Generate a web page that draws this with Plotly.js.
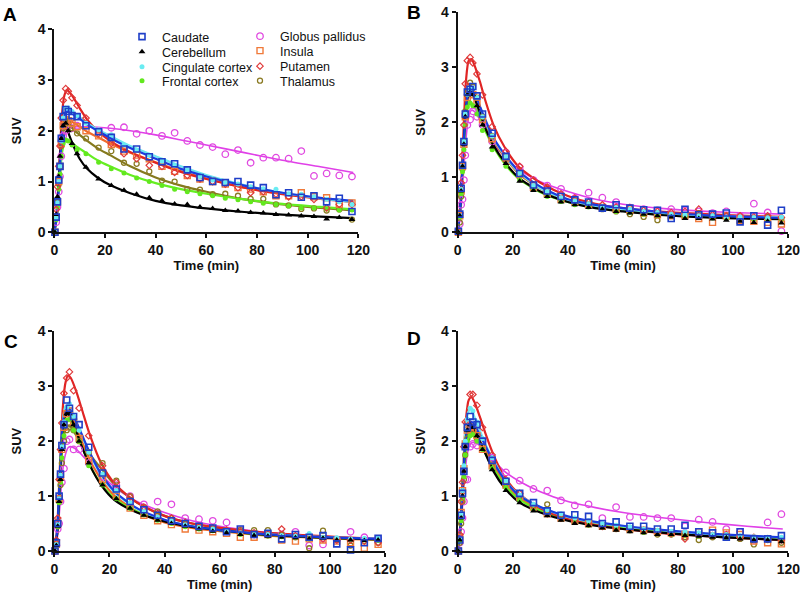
<!DOCTYPE html>
<html>
<head>
<meta charset="utf-8">
<script src="https://cdn.plot.ly/plotly-3.0.1.min.js"></script>
<style>html,body{margin:0;padding:0;background:#fff;}#chart{width:800px;height:594px;}</style>
</head>
<body>
<div id="chart"></div>
<script>
// Frame mid-times (min) for measured points
const T = [0.25, 0.75, 1.25, 1.75, 2.25, 2.75, 3.5, 4.5, 5.5, 7, 9, 12.5, 17.5, 22.5, 27.5, 32.5, 37.5, 42.5, 47.5, 52.5, 57.5, 62.5, 67.5, 72.5, 77.5, 82.5, 87.5, 92.5, 97.5, 102.5, 107.5, 112.5, 117.5];
// Times at which the fitted curves were read
const FIT_T = [0, 1, 2, 3, 4, 5, 6, 8, 10, 13, 17, 22, 30, 40, 50, 60, 75, 90, 105, 118];

const regions = ["Caudate", "Cerebellum", "Cingulate cortex", "Frontal cortex", "Globus pallidus", "Insula", "Putamen", "Thalamus"];
const panelLabels = ["A", "B", "C", "D"];

// ---------- Panel A : measured SUV ----------
const A_caudate = [0, 0.3, 0.6, 1.03, 1.3, 1.85, 2.28, 2.42, 2.38, 2.3, 2.28, 2.1, 1.98, 1.87, 1.64, 1.64, 1.49, 1.39, 1.35, 1.23, 1.08, 1.0, 0.98, 1.0, 0.93, 0.88, 0.74, 0.78, 0.69, 0.72, 0.6, 0.67, 0.41];
const A_cerebellum = [0, 0.35, 0.7, 1.1, 1.5, 1.85, 2.1, 2.15, 2.0, 1.75, 1.55, 1.28, 1.05, 0.92, 0.83, 0.75, 0.68, 0.62, 0.56, 0.55, 0.5, 0.47, 0.43, 0.42, 0.39, 0.38, 0.35, 0.34, 0.32, 0.31, 0.26, 0.29, 0.25];
const A_cingulate = [0, 0.28, 0.58, 1.0, 1.3, 1.8, 2.25, 2.45, 2.45, 2.38, 2.3, 2.15, 2.02, 1.92, 1.72, 1.62, 1.52, 1.4, 1.32, 1.22, 1.1, 1.03, 0.98, 0.95, 0.9, 0.86, 0.85, 0.76, 0.75, 0.7, 0.65, 0.6, 0.55];
const A_frontal = [0, 0.25, 0.5, 0.85, 1.15, 1.5, 1.75, 1.82, 1.8, 1.72, 1.62, 1.55, 1.38, 1.25, 1.17, 1.07, 1.0, 0.92, 0.85, 0.8, 0.76, 0.72, 0.67, 0.64, 0.6, 0.57, 0.55, 0.52, 0.48, 0.48, 0.46, 0.44, 0.44];
const A_globus = [0, 0.2, 0.5, 0.8, 1.1, 1.5, 1.9, 2.0, 2.1, 2.05, 2.1, 2.1, 2.0, 2.06, 2.07, 1.94, 2.0, 1.9, 1.96, 1.8, 1.72, 1.68, 1.54, 1.62, 1.37, 1.47, 1.47, 1.45, 1.6, 1.11, 1.16, 1.12, 1.1];
const A_insula = [0, 0.3, 0.6, 1.0, 1.3, 1.75, 2.1, 2.22, 2.2, 2.15, 2.08, 2.0, 1.9, 1.73, 1.6, 1.52, 1.45, 1.3, 1.2, 1.12, 1.05, 1.0, 0.95, 0.88, 0.85, 0.8, 0.72, 0.72, 0.78, 0.7, 0.68, 0.55, 0.58];
const A_putamen = [0, 0.45, 0.9, 1.3, 1.7, 2.25, 2.6, 2.83, 2.78, 2.65, 2.5, 2.25, 1.95, 1.75, 1.55, 1.45, 1.32, 1.3, 1.18, 1.12, 1.05, 1.0, 0.95, 0.88, 0.78, 0.8, 0.75, 0.7, 0.7, 0.65, 0.48, 0.55, 0.55];
const A_thalamus = [0, 0.3, 0.6, 0.95, 1.3, 1.7, 2.05, 2.2, 2.15, 2.05, 1.95, 1.85, 1.67, 1.6, 1.37, 1.35, 1.2, 1.02, 1.0, 0.85, 0.84, 0.75, 0.76, 0.72, 0.66, 0.66, 0.55, 0.53, 0.46, 0.47, 0.43, 0.45, 0.25];
// Panel A : fitted curves
const A_caudate_fit = [0, 0.35, 1.1, 1.95, 2.3, 2.38, 2.37, 2.3, 2.24, 2.12, 2.0, 1.86, 1.66, 1.45, 1.25, 1.1, 0.92, 0.78, 0.68, 0.62];
const A_cerebellum_fit = [0, 0.4, 1.25, 2.0, 2.15, 2.05, 1.9, 1.65, 1.45, 1.25, 1.08, 0.93, 0.77, 0.62, 0.53, 0.47, 0.4, 0.35, 0.31, 0.28];
const A_cingulate_fit = [0, 0.33, 1.05, 1.9, 2.3, 2.42, 2.4, 2.34, 2.27, 2.15, 2.03, 1.9, 1.7, 1.5, 1.3, 1.13, 0.93, 0.78, 0.67, 0.6];
const A_frontal_fit = [0, 0.3, 0.95, 1.55, 1.78, 1.82, 1.8, 1.72, 1.65, 1.55, 1.42, 1.3, 1.13, 0.97, 0.85, 0.76, 0.65, 0.56, 0.5, 0.45];
const A_globus_fit = [0, 0.25, 0.85, 1.55, 1.9, 2.02, 2.07, 2.08, 2.08, 2.08, 2.07, 2.05, 2.0, 1.92, 1.82, 1.72, 1.57, 1.42, 1.29, 1.18];
const A_insula_fit = [0, 0.3, 1.0, 1.8, 2.15, 2.22, 2.2, 2.15, 2.08, 1.98, 1.88, 1.75, 1.57, 1.38, 1.2, 1.06, 0.88, 0.76, 0.67, 0.6];
const A_putamen_fit = [0, 0.4, 1.3, 2.3, 2.7, 2.8, 2.76, 2.62, 2.45, 2.22, 2.0, 1.8, 1.58, 1.37, 1.19, 1.05, 0.88, 0.75, 0.66, 0.6];
const A_thalamus_fit = [0, 0.3, 1.0, 1.75, 2.1, 2.18, 2.12, 2.0, 1.92, 1.8, 1.66, 1.52, 1.3, 1.08, 0.92, 0.8, 0.65, 0.55, 0.48, 0.43];

// ---------- Panel B ----------
const B_caudate = [0.02, 0.33, 0.8, 1.22, 1.65, 2.15, 2.55, 2.6, 2.65, 2.48, 2.15, 1.8, 1.38, 1.07, 0.86, 0.75, 0.65, 0.59, 0.55, 0.44, 0.5, 0.44, 0.41, 0.4, 0.25, 0.42, 0.32, 0.33, 0.35, 0.19, 0.3, 0.13, 0.4];
const B_cerebellum = [0, 0.3, 0.75, 1.2, 1.6, 2.1, 2.5, 2.55, 2.5, 2.3, 1.95, 1.55, 1.25, 0.93, 0.76, 0.65, 0.55, 0.5, 0.45, 0.42, 0.38, 0.35, 0.33, 0.3, 0.28, 0.25, 0.25, 0.24, 0.22, 0.2, 0.18, 0.2, 0.17];
const B_cingulate = [0, 0.3, 0.78, 1.2, 1.65, 2.15, 2.5, 2.6, 2.62, 2.45, 2.1, 1.75, 1.38, 1.08, 0.85, 0.74, 0.63, 0.57, 0.52, 0.47, 0.45, 0.42, 0.38, 0.36, 0.33, 0.32, 0.3, 0.3, 0.28, 0.28, 0.27, 0.26, 0.28];
const B_frontal = [0, 0.28, 0.7, 1.1, 1.5, 1.95, 2.28, 2.35, 2.3, 2.15, 1.85, 1.5, 1.2, 0.95, 0.78, 0.65, 0.56, 0.5, 0.46, 0.42, 0.38, 0.36, 0.33, 0.31, 0.3, 0.29, 0.27, 0.26, 0.25, 0.26, 0.24, 0.23, 0.24];
const B_globus = [0, 0.15, 0.5, 0.6, 0.95, 1.4, 1.95, 2.05, 2.2, 2.1, 1.95, 1.65, 1.45, 1.18, 0.95, 0.85, 0.79, 0.62, 0.72, 0.63, 0.55, 0.45, 0.42, 0.4, 0.42, 0.4, 0.38, 0.35, 0.38, 0.3, 0.52, 0.36, 0.02];
const B_insula = [0, 0.3, 0.75, 1.2, 1.6, 2.1, 2.45, 2.55, 2.5, 2.35, 2.05, 1.7, 1.35, 1.05, 0.82, 0.7, 0.6, 0.55, 0.5, 0.45, 0.42, 0.4, 0.35, 0.32, 0.3, 0.3, 0.25, 0.18, 0.3, 0.22, 0.2, 0.18, 0.15];
const B_putamen = [0, 0.35, 0.9, 1.4, 1.95, 2.7, 3.12, 3.18, 3.08, 2.88, 2.5, 1.92, 1.47, 1.2, 0.95, 0.82, 0.7, 0.62, 0.55, 0.5, 0.46, 0.45, 0.4, 0.38, 0.36, 0.38, 0.42, 0.32, 0.3, 0.3, 0.28, 0.3, 0.27];
const B_thalamus = [0, 0.18, 0.65, 1.15, 1.65, 2.2, 2.55, 2.72, 2.65, 2.45, 2.1, 1.75, 1.35, 1.05, 0.8, 0.72, 0.6, 0.55, 0.48, 0.42, 0.38, 0.33, 0.28, 0.22, 0.3, 0.3, 0.35, 0.28, 0.3, 0.25, 0.25, 0.28, 0.25];
const B_caudate_fit = [0, 0.5, 1.45, 2.25, 2.58, 2.62, 2.55, 2.3, 2.05, 1.72, 1.42, 1.12, 0.83, 0.6, 0.5, 0.44, 0.36, 0.31, 0.28, 0.26];
const B_cerebellum_fit = [0, 0.5, 1.45, 2.25, 2.52, 2.55, 2.45, 2.18, 1.9, 1.58, 1.28, 1.0, 0.74, 0.55, 0.44, 0.38, 0.31, 0.27, 0.25, 0.24];
const B_cingulate_fit = [0, 0.5, 1.45, 2.25, 2.55, 2.6, 2.52, 2.28, 2.02, 1.7, 1.4, 1.1, 0.8, 0.58, 0.47, 0.41, 0.34, 0.3, 0.28, 0.27];
const B_frontal_fit = [0, 0.45, 1.35, 2.1, 2.32, 2.35, 2.3, 2.1, 1.85, 1.55, 1.25, 0.98, 0.73, 0.55, 0.45, 0.39, 0.32, 0.28, 0.26, 0.25];
const B_globus_fit = [0, 0.3, 1.0, 1.7, 2.1, 2.22, 2.2, 2.05, 1.85, 1.6, 1.38, 1.15, 0.92, 0.74, 0.6, 0.51, 0.43, 0.38, 0.35, 0.33];
const B_insula_fit = [0, 0.5, 1.4, 2.2, 2.5, 2.55, 2.48, 2.25, 2.0, 1.68, 1.38, 1.08, 0.8, 0.59, 0.48, 0.41, 0.34, 0.3, 0.27, 0.25];
const B_putamen_fit = [0, 0.55, 1.7, 2.75, 3.12, 3.15, 3.05, 2.75, 2.4, 1.95, 1.55, 1.2, 0.9, 0.66, 0.52, 0.44, 0.37, 0.33, 0.3, 0.28];
const B_thalamus_fit = [0, 0.5, 1.45, 2.3, 2.6, 2.65, 2.55, 2.28, 2.0, 1.68, 1.38, 1.08, 0.8, 0.58, 0.47, 0.4, 0.33, 0.29, 0.27, 0.26];

// ---------- Panel C ----------
const C_caudate = [0, 0.15, 0.5, 1.0, 1.4, 1.92, 2.3, 2.75, 2.6, 2.45, 2.3, 1.89, 1.42, 1.13, 0.9, 0.75, 0.65, 0.55, 0.5, 0.45, 0.42, 0.35, 0.4, 0.3, 0.32, 0.22, 0.3, 0.25, 0.28, 0.13, 0.02, 0.15, 0.23];
const C_cerebellum = [0, 0.1, 0.45, 0.9, 1.3, 1.85, 2.3, 2.5, 2.5, 2.3, 2.0, 1.6, 1.2, 0.95, 0.78, 0.65, 0.56, 0.5, 0.45, 0.4, 0.36, 0.33, 0.3, 0.28, 0.27, 0.25, 0.24, 0.22, 0.23, 0.2, 0.2, 0.19, 0.2];
const C_cingulate = [0, 0.12, 0.48, 0.95, 1.38, 1.9, 2.35, 2.62, 2.68, 2.45, 2.2, 1.8, 1.4, 1.1, 0.88, 0.72, 0.62, 0.55, 0.48, 0.43, 0.4, 0.36, 0.33, 0.3, 0.3, 0.28, 0.27, 0.32, 0.25, 0.24, 0.22, 0.23, 0.24];
const C_frontal = [0, 0.1, 0.45, 0.88, 1.25, 1.7, 2.1, 2.38, 2.4, 2.2, 2.0, 1.55, 1.2, 0.95, 0.78, 0.66, 0.56, 0.5, 0.44, 0.4, 0.37, 0.34, 0.3, 0.28, 0.27, 0.26, 0.25, 0.22, 0.24, 0.22, 0.2, 0.2, 0.19];
const C_globus = [0, 0.1, 0.4, 0.5, 0.9, 1.25, 1.5, 2.0, 2.03, 1.85, 1.85, 1.6, 1.35, 1.2, 1.0, 0.85, 0.9, 0.85, 0.6, 0.58, 0.55, 0.52, 0.38, 0.3, 0.3, 0.3, 0.35, 0.1, 0.12, 0.2, 0.35, 0.25, 0.22];
const C_insula = [0, 0.12, 0.5, 0.95, 1.35, 1.85, 2.25, 2.5, 2.55, 2.35, 2.05, 1.65, 1.3, 1.0, 0.78, 0.65, 0.55, 0.48, 0.4, 0.38, 0.35, 0.32, 0.25, 0.25, 0.3, 0.2, 0.18, 0.22, 0.2, 0.18, 0.15, 0.05, 0.12];
const C_putamen = [0, 0.2, 0.6, 1.3, 1.85, 2.33, 2.87, 3.15, 3.26, 2.92, 2.6, 2.1, 1.55, 1.25, 0.98, 0.8, 0.68, 0.6, 0.52, 0.45, 0.42, 0.38, 0.35, 0.33, 0.3, 0.4, 0.28, 0.25, 0.22, 0.2, 0.2, 0.18, 0.15];
const C_thalamus = [0, 0.12, 0.45, 0.9, 1.2, 1.6, 2.0, 2.2, 2.25, 2.2, 2.0, 1.8, 1.6, 1.28, 1.0, 0.8, 0.72, 0.6, 0.5, 0.42, 0.4, 0.35, 0.38, 0.38, 0.38, 0.3, 0.25, 0.05, 0.37, 0.2, 0.1, 0.18, 0.15];
const C_caudate_fit = [0, 0.35, 1.35, 2.3, 2.55, 2.6, 2.55, 2.35, 2.12, 1.78, 1.4, 1.08, 0.78, 0.57, 0.45, 0.38, 0.31, 0.27, 0.24, 0.22];
const C_cerebellum_fit = [0, 0.3, 1.25, 2.2, 2.45, 2.5, 2.42, 2.18, 1.9, 1.55, 1.2, 0.92, 0.7, 0.54, 0.44, 0.38, 0.3, 0.26, 0.23, 0.21];
const C_cingulate_fit = [0, 0.35, 1.35, 2.35, 2.62, 2.65, 2.58, 2.35, 2.1, 1.75, 1.38, 1.06, 0.77, 0.56, 0.45, 0.38, 0.31, 0.27, 0.24, 0.22];
const C_frontal_fit = [0, 0.3, 1.2, 2.1, 2.35, 2.4, 2.35, 2.15, 1.9, 1.55, 1.22, 0.95, 0.72, 0.55, 0.45, 0.38, 0.3, 0.26, 0.23, 0.21];
const C_globus_fit = [0, 0.2, 0.8, 1.45, 1.75, 1.88, 1.9, 1.85, 1.75, 1.58, 1.38, 1.16, 0.9, 0.7, 0.55, 0.45, 0.35, 0.29, 0.25, 0.23];
const C_insula_fit = [0, 0.32, 1.3, 2.25, 2.5, 2.55, 2.48, 2.25, 2.0, 1.65, 1.3, 1.0, 0.72, 0.52, 0.42, 0.36, 0.29, 0.25, 0.22, 0.2];
const C_putamen_fit = [0, 0.4, 1.5, 2.55, 3.05, 3.2, 3.15, 2.9, 2.58, 2.1, 1.6, 1.22, 0.88, 0.64, 0.5, 0.42, 0.34, 0.29, 0.25, 0.22];
const C_thalamus_fit = [0, 0.3, 1.15, 1.95, 2.2, 2.28, 2.25, 2.1, 1.95, 1.75, 1.5, 1.2, 0.88, 0.64, 0.5, 0.42, 0.33, 0.28, 0.24, 0.21];

// ---------- Panel D ----------
const D_caudate = [0, 0.2, 0.65, 1.05, 1.45, 1.9, 2.25, 2.45, 2.35, 2.3, 2.0, 1.65, 1.27, 1.05, 0.88, 0.73, 0.65, 0.66, 0.63, 0.5, 0.53, 0.45, 0.45, 0.4, 0.4, 0.47, 0.35, 0.33, 0.25, 0.35, 0.22, 0.22, 0.28];
const D_cerebellum = [0, 0.2, 0.6, 1.0, 1.45, 1.9, 2.2, 2.3, 2.25, 2.1, 1.85, 1.48, 1.1, 0.88, 0.73, 0.64, 0.56, 0.5, 0.46, 0.42, 0.38, 0.35, 0.33, 0.3, 0.3, 0.28, 0.27, 0.25, 0.24, 0.22, 0.2, 0.2, 0.17];
const D_cingulate = [0, 0.22, 0.68, 1.1, 1.55, 2.0, 2.4, 2.6, 2.55, 2.35, 2.05, 1.7, 1.28, 1.02, 0.85, 0.75, 0.68, 0.6, 0.55, 0.5, 0.47, 0.44, 0.4, 0.38, 0.36, 0.35, 0.33, 0.3, 0.3, 0.28, 0.26, 0.25, 0.25];
const D_frontal = [0, 0.18, 0.55, 0.95, 1.35, 1.75, 2.0, 2.1, 2.12, 2.0, 1.85, 1.5, 1.15, 0.92, 0.76, 0.66, 0.58, 0.52, 0.47, 0.43, 0.4, 0.37, 0.34, 0.32, 0.3, 0.28, 0.27, 0.26, 0.25, 0.24, 0.22, 0.21, 0.2];
const D_globus = [0, 0.15, 0.35, 0.6, 0.9, 1.3, 1.3, 1.9, 1.95, 1.92, 2.0, 1.7, 1.43, 1.28, 1.13, 1.1, 0.92, 0.83, 0.85, 0.6, 0.8, 0.62, 0.62, 0.6, 0.6, 0.45, 0.57, 0.53, 0.4, 0.35, 0.2, 0.52, 0.67];
const D_insula = [0, 0.25, 0.7, 1.1, 1.5, 1.95, 2.2, 2.25, 2.2, 2.1, 1.85, 1.55, 1.2, 0.98, 0.8, 0.68, 0.6, 0.55, 0.5, 0.45, 0.42, 0.4, 0.38, 0.35, 0.33, 0.3, 0.35, 0.38, 0.33, 0.3, 0.18, 0.15, 0.13];
const D_putamen = [0, 0.3, 0.9, 1.25, 1.9, 2.35, 2.35, 2.85, 2.85, 2.65, 2.25, 1.75, 1.3, 1.05, 0.82, 0.68, 0.6, 0.55, 0.5, 0.45, 0.42, 0.4, 0.38, 0.35, 0.32, 0.22, 0.3, 0.28, 0.3, 0.25, 0.25, 0.22, 0.2];
const D_thalamus = [0, 0.15, 0.5, 0.9, 1.3, 1.75, 2.05, 2.15, 2.2, 2.05, 1.9, 1.55, 1.2, 1.0, 0.82, 0.85, 0.62, 0.55, 0.5, 0.45, 0.4, 0.38, 0.35, 0.3, 0.3, 0.25, 0.2, 0.25, 0.25, 0.22, 0.12, 0.2, 0.15];
const D_caudate_fit = [0, 0.45, 1.35, 2.05, 2.3, 2.35, 2.3, 2.12, 1.92, 1.62, 1.3, 1.02, 0.8, 0.63, 0.53, 0.46, 0.38, 0.32, 0.28, 0.25];
const D_cerebellum_fit = [0, 0.45, 1.35, 2.05, 2.28, 2.3, 2.22, 2.0, 1.78, 1.45, 1.15, 0.9, 0.7, 0.55, 0.46, 0.4, 0.33, 0.27, 0.23, 0.2];
const D_cingulate_fit = [0, 0.5, 1.45, 2.3, 2.55, 2.6, 2.45, 2.2, 1.95, 1.65, 1.3, 1.03, 0.8, 0.62, 0.52, 0.45, 0.37, 0.31, 0.27, 0.24];
const D_frontal_fit = [0, 0.4, 1.2, 1.85, 2.08, 2.12, 2.08, 1.95, 1.78, 1.5, 1.2, 0.95, 0.74, 0.58, 0.48, 0.42, 0.35, 0.29, 0.25, 0.22];
const D_globus_fit = [0, 0.3, 1.0, 1.6, 1.88, 1.97, 1.98, 1.92, 1.82, 1.65, 1.45, 1.28, 1.08, 0.9, 0.79, 0.7, 0.6, 0.52, 0.45, 0.4];
const D_insula_fit = [0, 0.45, 1.3, 1.95, 2.18, 2.22, 2.18, 2.0, 1.82, 1.55, 1.25, 0.98, 0.76, 0.6, 0.5, 0.43, 0.35, 0.3, 0.25, 0.22];
const D_putamen_fit = [0, 0.5, 1.5, 2.4, 2.75, 2.8, 2.72, 2.45, 2.15, 1.75, 1.35, 1.05, 0.78, 0.58, 0.47, 0.4, 0.32, 0.27, 0.23, 0.2];
const D_thalamus_fit = [0, 0.4, 1.25, 1.95, 2.15, 2.2, 2.15, 2.0, 1.82, 1.55, 1.25, 0.98, 0.76, 0.59, 0.49, 0.42, 0.34, 0.28, 0.24, 0.21];

// ---------- assemble ----------
const panels = [
  {ax: "", meas: [A_caudate, A_cerebellum, A_cingulate, A_frontal, A_globus, A_insula, A_putamen, A_thalamus],
   fit: [A_caudate_fit, A_cerebellum_fit, A_cingulate_fit, A_frontal_fit, A_globus_fit, A_insula_fit, A_putamen_fit, A_thalamus_fit]},
  {ax: "2", meas: [B_caudate, B_cerebellum, B_cingulate, B_frontal, B_globus, B_insula, B_putamen, B_thalamus],
   fit: [B_caudate_fit, B_cerebellum_fit, B_cingulate_fit, B_frontal_fit, B_globus_fit, B_insula_fit, B_putamen_fit, B_thalamus_fit]},
  {ax: "3", meas: [C_caudate, C_cerebellum, C_cingulate, C_frontal, C_globus, C_insula, C_putamen, C_thalamus],
   fit: [C_caudate_fit, C_cerebellum_fit, C_cingulate_fit, C_frontal_fit, C_globus_fit, C_insula_fit, C_putamen_fit, C_thalamus_fit]},
  {ax: "4", meas: [D_caudate, D_cerebellum, D_cingulate, D_frontal, D_globus, D_insula, D_putamen, D_thalamus],
   fit: [D_caudate_fit, D_cerebellum_fit, D_cingulate_fit, D_frontal_fit, D_globus_fit, D_insula_fit, D_putamen_fit, D_thalamus_fit]}
];

// style per region (index matches regions[])
const styles = [
  {sym: "square-open",  size: 6,   mcol: "#1f3fc8", mlw: 1.6, lcol: "#1a3ce0", lw: 2.2},
  {sym: "triangle-up",  size: 6,   mcol: "#000000", mlw: 0,   lcol: "#000000", lw: 2.2},
  {sym: "circle",       size: 5,   mcol: "#6aecf2", mlw: 0,   lcol: "#6ee6f0", lw: 2.2},
  {sym: "circle",       size: 5,   mcol: "#62e81e", mlw: 0,   lcol: "#66ee22", lw: 2.2},
  {sym: "circle-open",  size: 6.5, mcol: "#e048e0", mlw: 1.3, lcol: "#e040e8", lw: 1.6},
  {sym: "square-open",  size: 6,   mcol: "#f07a3a", mlw: 1.4, lcol: "#f06a2a", lw: 2.2},
  {sym: "diamond-open", size: 5,   mcol: "#e03a3a", mlw: 1.2, lcol: "#e02424", lw: 2.2},
  {sym: "circle-open",  size: 5,   mcol: "#8a7a22", mlw: 1.3, lcol: "#857a1e", lw: 2.2}
];
// legend placement: one single-entry legend per region (text left x, row centre y), in px
const legendPos = [[161, 37], [161, 52], [161, 67], [161, 81], [279, 36.5], [279, 51], [279, 66.5], [279, 81]];
// drawing order (back to front)
const drawOrder = [4, 7, 5, 3, 6, 2, 1, 0];

const traces = [];
panels.forEach((p, pi) => {
  drawOrder.forEach(ri => {
    const s = styles[ri];
    traces.push({
      x: FIT_T, y: p.fit[ri], xaxis: "x" + p.ax, yaxis: "y" + p.ax,
      mode: "lines", line: {color: s.lcol, width: s.lw, shape: "spline", smoothing: 0.7},
      showlegend: false, hoverinfo: "skip", cliponaxis: false
    });
  });
  drawOrder.forEach(ri => {
    const s = styles[ri];
    traces.push({
      x: T, y: p.meas[ri], xaxis: "x" + p.ax, yaxis: "y" + p.ax,
      mode: "markers", name: regions[ri],
      marker: {symbol: s.sym, size: s.size, color: s.mcol, line: {color: s.mcol, width: s.mlw}},
      showlegend: pi === 0, legend: ri === 0 ? "legend" : "legend" + (ri + 1), cliponaxis: false
    });
  });
});

const tickFont = {family: "Liberation Sans, Arial, sans-serif", size: 14, color: "#111", weight: "bold"};
const titleFont = {family: "Liberation Sans, Arial, sans-serif", size: 13, color: "#111", weight: "bold"};
function xa(domain, anchor, standoff) {
  return {domain: domain, anchor: anchor, range: [0, 120], dtick: 20, tick0: 0,
    showline: true, linewidth: 2, linecolor: "#111", ticks: "outside", ticklen: 4, tickwidth: 2, tickcolor: "#111",
    ticklabeloverflow: "allow",
    showgrid: false, zeroline: false, tickfont: tickFont, title: {text: "Time (min)", font: titleFont, standoff: standoff}, automargin: false, fixedrange: true};
}
function ya(domain, anchor) {
  return {domain: domain, anchor: anchor, range: [0, 4], dtick: 1, tick0: 0,
    showline: true, linewidth: 2, linecolor: "#111", ticks: "outside", ticklen: 4, tickwidth: 2, tickcolor: "#111",
    ticklabeloverflow: "allow",
    showgrid: false, zeroline: false, tickfont: tickFont, title: {text: "SUV", font: titleFont, standoff: 13}, automargin: false, fixedrange: true};
}

const W = 800, H = 594;
const px = v => v / W, py = v => 1 - v / H;

const layout = {
  width: W, height: H,
  margin: {l: 0, r: 0, t: 0, b: 0},
  paper_bgcolor: "#fff", plot_bgcolor: "rgba(0,0,0,0)",
  showlegend: true,
  xaxis:  xa([px(54.3), px(358.3)], "y", 0),
  yaxis:  ya([py(232.3), py(29.3)], "x"),
  xaxis2: xa([px(457.7), px(788.3)], "y2", 2),
  yaxis2: ya([py(232.3), py(12.3)], "x2"),
  xaxis3: xa([px(54.3), px(385)], "y3", 0),
  yaxis3: ya([py(551), py(331.3)], "x3"),
  xaxis4: xa([px(457.7), px(788.3)], "y4", 0),
  yaxis4: ya([py(551), py(331.3)], "x4"),
  annotations: panelLabels.map((lab, i) => ({
    text: lab, xref: "paper", yref: "paper", showarrow: false,
    x: px([10, 414, 11, 414][i]), y: py([14, 12, 341, 338][i]), xanchor: "center", yanchor: "middle",
    font: {family: "Liberation Sans, Arial, sans-serif", size: 19, color: "#000", weight: "bold"}
  }))
};
legendPos.forEach((pos, i) => {
  layout[i === 0 ? "legend" : "legend" + (i + 1)] = {
    x: px(pos[0] - 39), y: py(pos[1]), xanchor: "left", yanchor: "middle", bgcolor: "rgba(0,0,0,0)",
    font: {family: "Liberation Sans, Arial, sans-serif", size: 12.5, color: "#111"}, itemclick: false
  };
});

Plotly.newPlot("chart", traces, layout, {displayModeBar: false, staticPlot: true});
</script>
</body>
</html>
